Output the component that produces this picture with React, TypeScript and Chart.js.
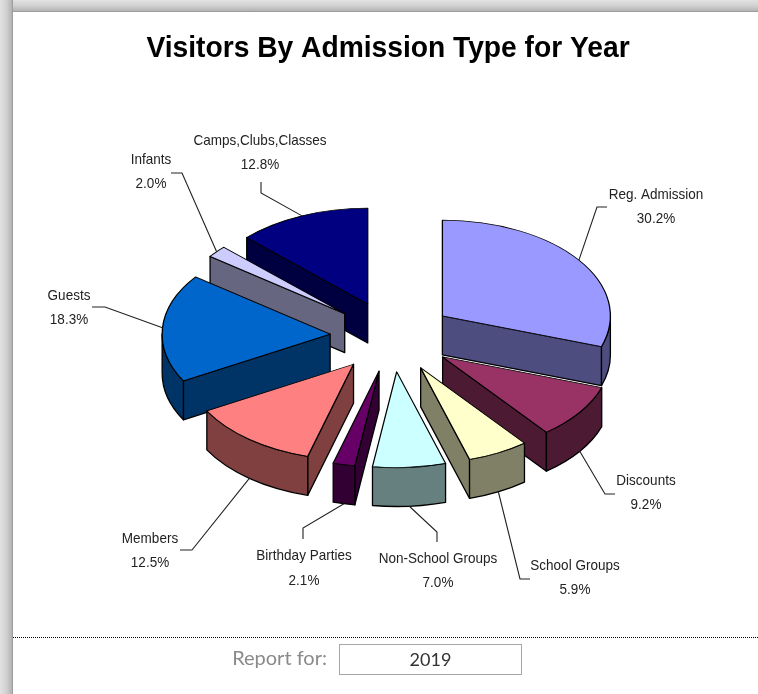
import React, { useEffect, useRef } from "react";
import { Chart, registerables } from "chart.js";

Chart.register(...registerables);

const titleText = "Visitors By Admission Type for Year";
const categories = [
  "Reg. Admission",
  "Discounts",
  "School Groups",
  "Non-School Groups",
  "Birthday Parties",
  "Members",
  "Guests",
  "Infants",
  "Camps,Clubs,Classes",
];
const shares = [30.2, 9.2, 5.9, 7.0, 2.1, 12.5, 18.3, 2.0, 12.8];
const topColors = ["#9999FF", "#993366", "#FFFFCC", "#CCFFFF", "#660066", "#FF8080", "#0066CC", "#CCCCFF", "#000080"];
const wallColors = ["#4D4D80", "#4D1A33", "#808066", "#668080", "#330033", "#804040", "#003366", "#666680", "#000040"];

// layout only: elbow + end of each leader line, text centre and the two text lines' middles
const leaderLayout = [
  { elbow: [597, 207], end: [607, 207], text: [656, 195, 219] },
  { elbow: [605, 494], end: [615, 494], text: [646, 481, 505] },
  { elbow: [520, 579], end: [530, 579], text: [575, 566, 590] },
  { elbow: [437, 532], end: [437, 542], text: [438, 559, 583] },
  { elbow: [303, 528], end: [303, 539], text: [304, 556, 581] },
  { elbow: [192, 550], end: [180, 550], text: [150, 539, 563] },
  { elbow: [105, 307], end: [92, 307], text: [69, 296, 320] },
  { elbow: [182, 173], end: [171, 173], text: [151, 160, 184] },
  { elbow: [261, 193], end: [261, 182], text: [260, 141, 165] },
];

const SQUASH = 0.57;
const DEPTH = 39;
const EXPLODE = 62;

const geom = (arc: any) => {
  const mid = (arc.startAngle + arc.endAngle) / 2;
  const ox = Math.cos(mid) * EXPLODE;
  const oy = Math.sin(mid) * EXPLODE;
  const ax = arc.x + ox;
  const ay = arc.y + SQUASH * oy;
  const r = arc.outerRadius;
  return { mid, ox, oy, ax, ay, r };
};

const pie3d = {
  id: "pie3d",
  beforeDatasetsDraw(chart: any) {
    const ctx = chart.ctx;
    const arcs = chart.getDatasetMeta(0).data.map((arc: any, i: number) => ({ arc, i }));
    arcs.sort((p: any, q: any) => geom(p.arc).ay - geom(q.arc).ay);
    for (const { arc, i } of arcs) {
      const { ox, oy, ax, ay, r } = geom(arc);
      const a = arc.startAngle;
      const b = arc.endAngle;
      const rim = (t: number) => [ax + r * Math.cos(t), ay + r * SQUASH * Math.sin(t)];
      ctx.save();
      ctx.fillStyle = wallColors[i];
      ctx.strokeStyle = "#000";
      ctx.lineWidth = 1.3;
      ctx.lineJoin = "round";
      const radial = (t: number) => {
        const [x, y] = rim(t);
        ctx.beginPath();
        ctx.moveTo(ax, ay);
        ctx.lineTo(x, y);
        ctx.lineTo(x, y + DEPTH);
        ctx.lineTo(ax, ay + DEPTH);
        ctx.closePath();
        ctx.fill();
        ctx.stroke();
      };
      if (Math.cos(a) < -1e-6) radial(a);
      if (Math.cos(b) > 1e-6) radial(b);
      const t0 = Math.max(a, 0);
      const t1 = Math.min(b, Math.PI);
      if (t1 > t0) {
        ctx.beginPath();
        ctx.ellipse(ax, ay, r, r * SQUASH, 0, t0, t1);
        ctx.ellipse(ax, ay + DEPTH, r, r * SQUASH, 0, t1, t0, true);
        ctx.closePath();
        ctx.fill();
        ctx.stroke();
      }
      ctx.translate(arc.x, arc.y);
      ctx.scale(1, SQUASH);
      ctx.translate(-arc.x + ox, -arc.y + oy);
      arc.draw(ctx);
      ctx.restore();
    }
    return false;
  },
  afterDraw(chart: any) {
    const ctx = chart.ctx;
    ctx.save();
    ctx.fillStyle = "#000";
    ctx.font = 'bold 30px "Liberation Sans"';
    ctx.textAlign = "center";
    ctx.textBaseline = "alphabetic";
    ctx.translate(388, 57);
    ctx.scale(0.94, 1);
    ctx.fillText(titleText, 0, 0);
    ctx.restore();
    chart.getDatasetMeta(0).data.forEach((arc: any, i: number) => {
      const { mid, ax, ay, r } = geom(arc);
      const layout = leaderLayout[i];
      const sx = ax + r * Math.cos(mid);
      const sy = ay + r * SQUASH * Math.sin(mid) + (Math.sin(mid) > 0 ? DEPTH : 0);
      ctx.save();
      ctx.strokeStyle = "#222";
      ctx.lineWidth = 1.1;
      ctx.beginPath();
      ctx.moveTo(sx, sy);
      ctx.lineTo(layout.elbow[0], layout.elbow[1]);
      ctx.lineTo(layout.end[0], layout.end[1]);
      ctx.stroke();
      ctx.fillStyle = "#222";
      ctx.font = '15px "Liberation Sans"';
      ctx.textAlign = "center";
      ctx.textBaseline = "middle";
      const [tx, y1, y2] = layout.text;
      ctx.translate(tx, 0);
      ctx.scale(0.9, 1);
      ctx.fillText(categories[i], 0, y1);
      ctx.fillText(shares[i].toFixed(1) + "%", 0, y2);
      ctx.restore();
    });
  },
};

export default function App() {
  const ref = useRef<HTMLCanvasElement>(null);
  useEffect(() => {
    const chart = new Chart(ref.current as HTMLCanvasElement, {
      type: "pie",
      plugins: [pie3d as any],
      data: {
        labels: categories,
        datasets: [
          {
            data: shares,
            backgroundColor: topColors,
            borderColor: "#000",
            borderWidth: 1.3,
            borderJoinStyle: "round",
            radius: 168,
          } as any,
        ],
      },
      options: {
        responsive: false,
        animation: false,
        devicePixelRatio: 1,
        layout: { padding: { left: 26, right: 0, top: 0, bottom: 21 } },
        plugins: {
          legend: { display: false },
          tooltip: { enabled: false },
          title: { display: false },
        },
      } as any,
    });
    return () => chart.destroy();
  }, []);

  const page: React.CSSProperties = { position: "absolute", left: 0, top: 0, width: 758, height: 694, overflow: "hidden", background: "#fff" };
  return (
    <div style={page}>
      <div style={{ position: "absolute", left: 0, top: 0, width: 758, height: 12, background: "linear-gradient(to bottom,#e2e2e2,#d0d0d0 50%,#b4b4b4 90%,#8e8e8e)" }} />
      <div style={{ position: "absolute", left: 0, top: 0, width: 13, height: 694, background: "linear-gradient(to right,#e2e2e2,#d0d0d0 50%,#b4b4b4 90%,#8e8e8e)" }} />
      <canvas ref={ref} width={758} height={694} style={{ position: "absolute", left: 0, top: 0, display: "block" }} />
      <div style={{ position: "absolute", left: 13, right: 0, top: 637, borderTop: "1px dotted #000" }} />
      <div style={{ position: "absolute", left: 200, width: 127, top: 644, height: 26, textAlign: "right", color: "#8a8a8a", font: '20px/26px Lato' }}>Report for:</div>
      <div style={{ position: "absolute", left: 339, top: 644, width: 181, height: 29, border: "1px solid #a6a6a6", textAlign: "center", color: "#333", font: '18px/29px Lato' }}>2019</div>
    </div>
  );
}
